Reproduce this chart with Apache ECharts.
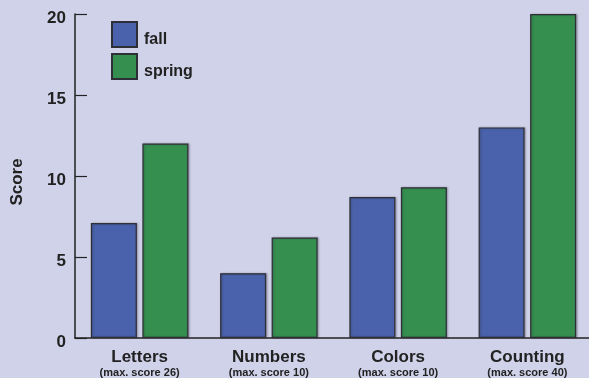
<!DOCTYPE html>
<html>
<head>
<meta charset="utf-8">
<script src="https://cdn.jsdelivr.net/npm/echarts@6/dist/echarts.min.js"></script>
<style>
  html, body { margin: 0; padding: 0; background: #d0d2e9; }
  #chart { width: 589px; height: 378px; }
</style>
</head>
<body>
<div id="chart"></div>
<script>
// Skill areas and the maximum possible score for each
const categories = ['Letters', 'Numbers', 'Colors', 'Counting'];
const maxScores = [26, 10, 10, 40];

// Average scores per assessment season
const fallScores = [7.1, 4.0, 8.7, 13.0];
const springScores = [12.0, 6.2, 9.3, 20.0];

// Value axis ticks
const yMin = 0;
const yMax = 20;
const yStep = 5;

const FONT = '"Liberation Sans", Arial, Helvetica, sans-serif';
const INK = '#222';

const chart = echarts.init(document.getElementById('chart'), null, { renderer: 'canvas' });

const barStyle = (color) => ({
  color: color,
  borderColor: '#2e2e36',
  borderWidth: 1.2,
  shadowColor: 'rgba(40,40,50,0.35)',
  shadowBlur: 2,
  shadowOffsetX: 1
});

chart.setOption({
  backgroundColor: '#d0d2e9',
  animation: false,
  textStyle: { fontFamily: FONT },
  grid: { left: 75, top: 14, bottom: 40, width: 517, outerBoundsMode: 'none', containLabel: false },
  legend: {
    orient: 'vertical',
    left: 111,
    top: 21,
    padding: 0,
    itemWidth: 25,
    itemHeight: 25,
    itemGap: 5,
    icon: 'rect',
    formatter: (name) => '{t|' + name + '}',
    textStyle: {
      rich: {
        t: {
          fontFamily: FONT,
          fontSize: 16,
          fontWeight: 'bold',
          color: INK,
          padding: [10, 0, 0, 2]
        }
      }
    },
    data: ['fall', 'spring']
  },
  xAxis: {
    type: 'category',
    data: categories,
    axisLine: { lineStyle: { color: INK, width: 1.5 } },
    axisTick: { inside: true, length: 8, lineStyle: { color: INK, width: 1.2 } },
    axisLabel: {
      margin: 10,
      interval: 0,
      formatter: (value, idx) => '{a|' + value + '}\n{b|(max. score ' + maxScores[idx] + ')}',
      rich: {
        a: { fontFamily: FONT, fontSize: 17, fontWeight: 'bold', color: INK, lineHeight: 18 },
        b: { fontFamily: FONT, fontSize: 11, fontWeight: 'bold', color: INK, lineHeight: 13 }
      }
    }
  },
  yAxis: {
    type: 'value',
    min: yMin,
    max: yMax,
    interval: yStep,
    name: 'Score',
    nameLocation: 'middle',
    nameGap: 49,
    nameTextStyle: {
      fontFamily: FONT,
      fontSize: 17,
      fontWeight: 'bold',
      color: INK,
      padding: [0, 12, 0, 0]
    },
    axisLine: { show: true, lineStyle: { color: INK, width: 1.5 } },
    axisTick: { show: true, inside: true, length: 12, lineStyle: { color: INK, width: 1.2 } },
    axisLabel: {
      margin: 9,
      formatter: (v) => '{v|' + v + '}',
      rich: {
        v: {
          fontFamily: FONT,
          fontSize: 17,
          fontWeight: 'bold',
          color: INK,
          padding: [8, 0, 0, 0]
        }
      }
    },
    splitLine: { show: false }
  },
  series: [
    {
      name: 'fall',
      type: 'bar',
      data: fallScores,
      barWidth: 46,
      barGap: '12%',
      itemStyle: barStyle('#4a62ab')
    },
    {
      name: 'spring',
      type: 'bar',
      data: springScores,
      barWidth: 46,
      barGap: '12%',
      itemStyle: barStyle('#35904f')
    }
  ]
});
</script>
</body>
</html>
